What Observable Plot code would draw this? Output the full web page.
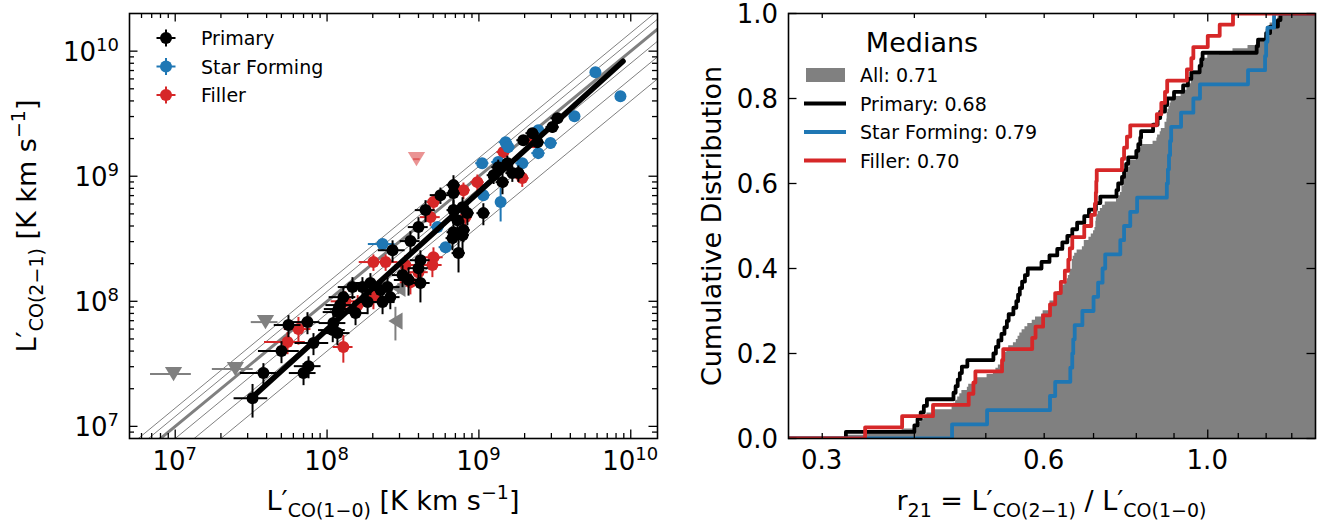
<!DOCTYPE html>
<html><head><meta charset="utf-8">
<script src="https://cdn.jsdelivr.net/npm/d3@7"></script>
<script src="https://cdn.jsdelivr.net/npm/@observablehq/plot@0.6"></script>
<style>
body{margin:0;background:#fff;}
#wrap{position:relative;width:1327px;height:523px;overflow:hidden;background:#fff;}
#left,#right{position:absolute;top:0;}
#left{left:0;}
#right{left:670px;}
</style></head>
<body><div id="wrap"><div id="left"></div><div id="right"></div></div>
<script>
// ---------------- DATA ----------------
// Left panel: [L'CO(1-0), L'CO(2-1), relative x error, relative y error]
const primary = [
 [3.23e7,1.68e7,0.25,0.3],[3.81e7,2.67e7,0.3,0.2],[5.01e7,4.00e7,0.3,0.2],[5.57e7,6.46e7,0.2,0.2],
 [7.43e7,6.82e7,0.2,0.2],[8.14e7,4.64e7,0.25,0.2],[7.55e7,3.03e7,0.2,0.2],[7.0e7,2.67e7,0.2,0.2],
 [1.09e8,5.89e7,0.2,0.2],[1.19e8,8.67e7,0.2,0.2],[1.10e8,6.70e7,0.2,0.2],[1.17e8,5.57e7,0.2,0.2],
 [1.47e8,1.30e8,0.2,0.2],[1.71e8,1.30e8,0.2,0.2],[1.22e8,9.33e7,0.2,0.2],[1.54e8,8.05e7,0.2,0.2],
 [1.85e8,9.86e7,0.2,0.2],[2.32e8,9.86e7,0.2,0.2],[2.61e8,1.08e8,0.15,0.2],[2.70e8,2.56e8,0.2,0.2],
 [1.93e8,1.40e8,0.2,0.2],[1.28e8,1.08e8,0.2,0.2],[1.17e8,8.20e7,0.2,0.2],[2.25e8,1.23e8,0.2,0.2],
 [2.50e8,1.30e8,0.2,0.2],[3.14e8,1.62e8,0.15,0.2],[3.44e8,1.48e8,0.2,0.25],[3.54e8,3.03e8,0.15,0.2],
 [4.12e8,2.13e8,0.15,0.2],[4.00e8,1.84e8,0.15,0.2],[4.12e8,1.40e8,0.15,0.3],[4.00e8,3.92e8,0.15,0.2],
 [4.45e8,5.36e8,0.15,0.2],[5.58e8,7.06e8,0.15,0.15],[6.80e8,8.49e8,0.1,0.2],[6.80e8,7.33e8,0.1,0.2],
 [6.80e8,5.36e8,0.1,0.2],[7.80e8,5.66e8,0.1,0.2],[7.23e8,4.45e8,0.1,0.2],[7.91e8,3.71e8,0.1,0.2],
 [6.80e8,3.57e8,0.1,0.2],[8.40e8,5.07e8,0.1,0.2],[1.07e9,5.07e8,0.1,0.2],[6.70e8,3.20e8,0.1,0.2],
 [7.80e8,3.38e8,0.1,0.3],[7.34e8,2.43e8,0.1,0.3],[1.25e9,1.02e9,0.1,0.15],[1.34e9,1.18e9,0.1,0.15],
 [1.54e9,1.27e9,0.1,0.15],[1.66e9,1.06e9,0.1,0.15],[1.82e9,1.06e9,0.1,0.15],[1.43e9,8.97e8,0.1,0.2],
 [1.96e9,1.94e9,0.1,0.1],[2.25e9,2.21e9,0.1,0.1],[2.43e9,1.87e9,0.1,0.1],[3.05e9,2.47e9,0.1,0.1],
 [3.29e9,2.91e9,0.1,0.1]
];
const starForming = [
 [2.32e8,2.87e8,0.2,0.1],[5.34e8,3.92e8,0.1,0.1],[6.03e8,2.71e8,0.1,0.1],[1.05e9,1.27e9,0.1,0.1],
 [1.34e9,1.30e9,0.1,0.1],[1.07e9,7.06e8,0.1,0.1],[1.39e9,6.21e8,0.05,0.3],[1.50e9,1.87e9,0.1,0.1],
 [1.56e9,1.71e9,0.1,0.1],[1.93e9,1.27e9,0.1,0.1],[2.46e9,2.33e9,0.1,0.1],[2.46e9,1.53e9,0.1,0.1],
 [2.96e9,1.84e9,0.1,0.1],[4.26e9,3.02e9,0.05,0.1],[5.85e9,6.79e9,0.05,0.05],[8.55e9,4.36e9,0.05,0.05]
];
const filler = [
 [5.49e7,4.72e7,0.3,0.2],[6.48e7,6.00e7,0.2,0.25],[1.28e8,4.31e7,0.15,0.25],[1.32e8,1.00e8,0.2,0.2],
 [1.59e8,9.33e7,0.2,0.2],[2.02e8,2.06e8,0.2,0.15],[2.43e8,2.06e8,0.2,0.15],[2.18e8,1.23e8,0.15,0.2],
 [2.02e8,1.08e8,0.15,0.2],[5.02e8,2.25e8,0.15,0.2],[4.94e8,1.95e8,0.15,0.2],[4.00e8,1.71e8,0.15,0.2],
 [3.54e8,1.42e8,0.15,0.2],[4.80e8,4.71e8,0.15,0.15],[5.02e8,6.21e8,0.1,0.15],[7.91e8,7.74e8,0.1,0.15],
 [8.15e8,4.71e8,0.1,0.2],[9.77e8,8.97e8,0.1,0.15],[1.45e9,1.56e9,0.1,0.1],[1.93e9,9.66e8,0.1,0.15],
 [2.28e9,1.87e9,0.1,0.1],[3.28e8,1.95e8,0.15,0.2]
];
// upper limits in L'CO(2-1): [x, y, relative x error]
const limitsDownGray = [[9.75e6,2.62e7,0.3],[2.49e7,2.87e7,0.3],[3.93e7,6.82e7,0.2]];
const limitsDownFiller = [[3.88e8,1.37e9,0.05]];
// upper limits in L'CO(1-0): [x, y, relative y error]
const limitsLeftGray = [[2.95e8,1.27e8,0.1],[2.82e8,6.95e7,0.3]];
// reference ratio lines r21 and the fit
const ratioThin = [0.4,0.6,0.8,1.2,1.4];
const ratioThick = [1.0];
const fitLine = [[3.2e7,1.7e7],[8.9e9,8.3e9]];
const groupNames = ["Primary","Star Forming","Filler"];
const groupColors = ["black","#1f77b4","#d62728"];
const xTicksLeft = [1e7,1e8,1e9,1e10];
const yTicksLeft = [1e7,1e8,1e9,1e10];

// Right panel: r21 values per group
const r21Primary = [0.323,0.400,0.404,0.408,0.412,0.416,0.452,0.455,0.458,0.461,0.464,0.472,0.512,0.516,0.520,0.525,0.530,0.534,0.537,0.545,0.550,0.553,0.556,0.560,0.565,0.570,0.595,0.610,0.625,0.635,0.645,0.655,0.665,0.680,0.690,0.705,0.715,0.752,0.756,0.765,0.770,0.775,0.780,0.800,0.805,0.810,0.812,0.843,0.855,0.862,0.875,0.881,0.900,0.926,0.940,0.950,0.975,0.980,0.984,1.165,1.170,1.200,1.215,1.245,1.255];
const r21StarForming = [0.450,0.502,0.611,0.621,0.651,0.655,0.657,0.660,0.676,0.700,0.710,0.720,0.726,0.761,0.770,0.785,0.802,0.880,0.883,0.886,0.889,0.892,0.920,0.956,0.976,1.134,1.196,1.200,1.205,1.230];
const r21Filler = [0.343,0.385,0.424,0.474,0.481,0.484,0.526,0.528,0.578,0.584,0.598,0.611,0.621,0.632,0.640,0.647,0.650,0.655,0.680,0.695,0.703,0.705,0.706,0.707,0.765,0.770,0.777,0.785,0.853,0.865,0.875,0.881,0.937,0.950,0.956,1.000,1.038,1.082];
const medianLabels = ["All: 0.71","Primary: 0.68","Star Forming: 0.79","Filler: 0.70"];
const xTickLabelsRight = [0.3,0.6,1.0];
const xMinorRight = [0.3,0.4,0.5,0.6,0.7,0.8,0.9,1.1,1.2,1.3];
const xMajorRight = [1.0];
const yTicksRight = [0,0.2,0.4,0.6,0.8,1.0];

// ---------------- HELPERS ----------------
const FONT = "DejaVu Sans, sans-serif";
const FT = 26, FL = 27, FLS = 19, FTS = 18, FLEG = 19;
function richText(g, parts, attrs) {
  const t = g.append("text").attr("font-family", FONT).attr("fill", "black").attr("text-anchor", "start");
  for (const [k, v] of Object.entries(attrs)) t.attr(k, v);
  for (const p of parts) {
    const s = t.append("tspan").text(p.t).attr("font-size", p.size || FL);
    if (p.dy) s.attr("dy", p.dy);
    if (p.dx) s.attr("dx", p.dx);
  }
  return t;
}
const triDown = {draw(ctx, size){ const r = Math.sqrt(size/Math.PI); const w=r*1.15, h=r*0.95;
  ctx.moveTo(-w,-h); ctx.lineTo(w,-h); ctx.lineTo(0,h); ctx.closePath(); }};
const triLeft = {draw(ctx, size){ const r = Math.sqrt(size/Math.PI); const w=r*1.15, h=r*0.95;
  ctx.moveTo(-h,0); ctx.lineTo(h,-w); ctx.lineTo(h,w); ctx.closePath(); }};
function logMinor(lo, hi) {
  const out = [];
  for (let e = Math.floor(Math.log10(lo)); e <= Math.ceil(Math.log10(hi)); e++)
    for (let m = 2; m <= 9; m++) { const v = m * 10 ** e; if (v > lo * 1.001 && v < hi * 0.999) out.push(v); }
  return out;
}
function errMarks(data, color) {
  return [
    Plot.link(data, {x1: d => d[0]*(1-d[2]), x2: d => d[0]*(1+d[2]), y1: d => d[1], y2: d => d[1], stroke: color, strokeWidth: 2}),
    Plot.link(data, {x1: d => d[0], x2: d => d[0], y1: d => d[1]*(1-d[3]), y2: d => d[1]*(1+d[3]), stroke: color, strokeWidth: 2}),
    Plot.dot(data, {x: d => d[0], y: d => d[1], r: 6, fill: color, stroke: "none"})
  ];
}

// ---------------- LEFT PANEL ----------------
const LW = 670, H = 523, LML = 129, LMR = 13, MT = 13, MB = 85;
const LFW = LW - LML - LMR, FH = H - MT - MB;
const xDomL = [5e6, 1.5e10], yDomL = [8e6, 2e10];
const TMAJ = 8.5, TMIN = 5;
const xMinL = logMinor(...xDomL), yMinL = logMinor(...yDomL);
const ratioData = (rs) => rs.flatMap(r => xDomL.map(x => ({x, y: r * x, r})));
const tickStyle = {stroke: "black", strokeWidth: 1.3};

const left = Plot.plot({
  width: LW, height: H, marginLeft: LML, marginRight: LMR, marginTop: MT, marginBottom: MB,
  style: {background: "transparent", overflow: "visible"},
  x: {type: "log", domain: xDomL, axis: null},
  y: {type: "log", domain: yDomL, axis: null},
  marks: [
    Plot.line(ratioData(ratioThin), {x: "x", y: "y", z: "r", stroke: "gray", strokeWidth: 1, clip: true}),
    Plot.line(ratioData(ratioThick), {x: "x", y: "y", z: "r", stroke: "gray", strokeWidth: 3, clip: true}),
    Plot.link(limitsDownGray, {x1: d => d[0]*(1-d[2]), x2: d => d[0]*(1+d[2]), y1: d => d[1], y2: d => d[1], stroke: "gray", strokeWidth: 2}),
    Plot.dot(limitsDownGray, {x: d => d[0], y: d => d[1], r: 7.5, symbol: triDown, fill: "gray", stroke: "none"}),
    Plot.link(limitsLeftGray, {x1: d => d[0], x2: d => d[0], y1: d => d[1]*(1-d[2]), y2: d => d[1]*(1+d[2]), stroke: "gray", strokeWidth: 2}),
    Plot.dot(limitsLeftGray, {x: d => d[0], y: d => d[1], r: 7.5, symbol: triLeft, fill: "gray", stroke: "none"}),
    Plot.link(limitsDownFiller, {x1: d => d[0]*(1-d[2]), x2: d => d[0]*(1+d[2]), y1: d => d[1], y2: d => d[1], stroke: "#d62728", strokeOpacity: 0.5, strokeWidth: 2}),
    Plot.dot(limitsDownFiller, {x: d => d[0], y: d => d[1], r: 7.5, symbol: triDown, fill: "#d62728", fillOpacity: 0.5, stroke: "none"}),
    ...errMarks(filler, groupColors[2]),
    ...errMarks(starForming, groupColors[1]),
    ...errMarks(primary, groupColors[0]),
    Plot.line(fitLine, {x: d => d[0], y: d => d[1], stroke: "black", strokeWidth: 5.5}),
    Plot.ruleX(xTicksLeft, {x: d => d, insetTop: FH - TMAJ, ...tickStyle}),
    Plot.ruleX(xTicksLeft, {x: d => d, insetBottom: FH - TMAJ, ...tickStyle}),
    Plot.ruleX(xMinL, {x: d => d, insetTop: FH - TMIN, ...tickStyle}),
    Plot.ruleX(xMinL, {x: d => d, insetBottom: FH - TMIN, ...tickStyle}),
    Plot.ruleY(yTicksLeft, {y: d => d, insetRight: LFW - TMAJ, ...tickStyle}),
    Plot.ruleY(yTicksLeft, {y: d => d, insetLeft: LFW - TMAJ, ...tickStyle}),
    Plot.ruleY(yMinL, {y: d => d, insetRight: LFW - TMIN, ...tickStyle}),
    Plot.ruleY(yMinL, {y: d => d, insetLeft: LFW - TMIN, ...tickStyle}),
    Plot.frame({stroke: "black", strokeWidth: 1.6})
  ]
});
document.getElementById("left").appendChild(left);
{
  const g = d3.select(left).append("g");
  const sx = left.scale("x"), sy = left.scale("y");
  for (const v of xTicksLeft) {
    richText(g, [{t: "10", size: FT}, {t: String(Math.round(Math.log10(v))), size: FTS, dy: -10}],
      {x: sx.apply(v), y: 470, "text-anchor": "middle"});
  }
  for (const v of yTicksLeft) {
    richText(g, [{t: "10", size: FT}, {t: String(Math.round(Math.log10(v))), size: FTS, dy: -10}],
      {x: 119, y: sy.apply(v) + 10, "text-anchor": "end"});
  }
  richText(g, [{t: "L′"}, {t: "CO(1−0)", size: FLS, dy: 7}, {t: " [K km s", dy: -7},
    {t: "−1", size: FLS, dy: -11}, {t: "]", dy: 11}], {x: 393, y: 510, "text-anchor": "middle"});
  richText(g, [{t: "L′"}, {t: "CO(2−1)", size: FLS, dy: 7}, {t: " [K km s", dy: -7},
    {t: "−1", size: FLS, dy: -11}, {t: "]", dy: 11}], {transform: "translate(36,226) rotate(-90)", "text-anchor": "middle"});
  groupNames.forEach((name, i) => {
    const y = 38 + i * 28.5, x = 166, c = groupColors[i];
    g.append("line").attr("x1", x - 9.5).attr("x2", x + 9.5).attr("y1", y).attr("y2", y).attr("stroke", c).attr("stroke-width", 2);
    g.append("line").attr("x1", x).attr("x2", x).attr("y1", y - 8.5).attr("y2", y + 8.5).attr("stroke", c).attr("stroke-width", 2);
    g.append("circle").attr("cx", x).attr("cy", y).attr("r", 6).attr("fill", c);
    richText(g, [{t: name, size: FLEG}], {x: 201, y: y + 7});
  });
}

// ---------------- RIGHT PANEL ----------------
const RW = 657, RML = 118, RMR = 12;
const RFW = RW - RML - RMR;
const xDomR = [0.27, 1.4];
function ecdf(values) {
  const s = values.slice().sort((a, b) => a - b), n = s.length;
  return [{x: xDomR[0], y: 0}, ...s.map((v, i) => ({x: v, y: (i + 1) / n})), {x: xDomR[1], y: 1}];
}
const r21All = [...r21Primary, ...r21StarForming, ...r21Filler];
const right = Plot.plot({
  width: RW, height: H, marginLeft: RML, marginRight: RMR, marginTop: MT, marginBottom: MB,
  style: {background: "transparent", overflow: "visible"},
  x: {type: "log", domain: xDomR, axis: null},
  y: {domain: [0, 1], axis: null},
  marks: [
    Plot.areaY(ecdf(r21All), {x: "x", y1: 0, y2: "y", curve: "step-after", fill: "gray", clip: true}),
    Plot.line(ecdf(r21Primary), {x: "x", y: "y", curve: "step-after", stroke: "black", strokeWidth: 3.8, clip: true}),
    Plot.line(ecdf(r21StarForming), {x: "x", y: "y", curve: "step-after", stroke: "#1f77b4", strokeWidth: 3.8, clip: true}),
    Plot.line(ecdf(r21Filler), {x: "x", y: "y", curve: "step-after", stroke: "#d62728", strokeWidth: 3.8, clip: true}),
    Plot.ruleX(xMajorRight, {x: d => d, insetTop: FH - TMAJ, ...tickStyle}),
    Plot.ruleX(xMajorRight, {x: d => d, insetBottom: FH - TMAJ, ...tickStyle}),
    Plot.ruleX(xMinorRight, {x: d => d, insetTop: FH - TMIN, ...tickStyle}),
    Plot.ruleX(xMinorRight, {x: d => d, insetBottom: FH - TMIN, ...tickStyle}),
    Plot.ruleY(yTicksRight, {y: d => d, insetRight: RFW - TMAJ, ...tickStyle}),
    Plot.ruleY(yTicksRight, {y: d => d, insetLeft: RFW - TMAJ, ...tickStyle}),
    Plot.frame({stroke: "black", strokeWidth: 1.6})
  ]
});
document.getElementById("right").appendChild(right);
{
  const g = d3.select(right).append("g");
  const sx = right.scale("x"), sy = right.scale("y");
  for (const v of xTickLabelsRight)
    richText(g, [{t: v.toFixed(1), size: FT}], {x: sx.apply(v), y: 469, "text-anchor": "middle"});
  for (const v of yTicksRight)
    richText(g, [{t: v.toFixed(1), size: FT}], {x: 108, y: sy.apply(v) + 10, "text-anchor": "end"});
  richText(g, [{t: "Cumulative Distribution"}], {transform: "translate(51,226) rotate(-90)", "text-anchor": "middle"});
  richText(g, [{t: "r"}, {t: "21", size: FLS, dy: 7}, {t: " = L′", dy: -7}, {t: "CO(2−1)", size: FLS, dy: 7},
    {t: " / L′", dy: -7}, {t: "CO(1−0)", size: FLS, dy: 7}], {x: 381.5, y: 510, "text-anchor": "middle"});
  richText(g, [{t: "Medians"}], {x: 252, y: 52, "text-anchor": "middle"});
  const lx0 = 134, lx1 = 176;
  medianLabels.forEach((lab, i) => {
    const y = 75 + i * 28.5;
    if (i === 0) g.append("rect").attr("x", 136).attr("y", y - 7).attr("width", 39).attr("height", 14).attr("fill", "gray");
    else g.append("line").attr("x1", lx0).attr("x2", lx1).attr("y1", y).attr("y2", y).attr("stroke", groupColors[i - 1]).attr("stroke-width", 4);
    richText(g, [{t: lab, size: FLEG}], {x: 190, y: y + 7});
  });
}
</script>
</body></html>
